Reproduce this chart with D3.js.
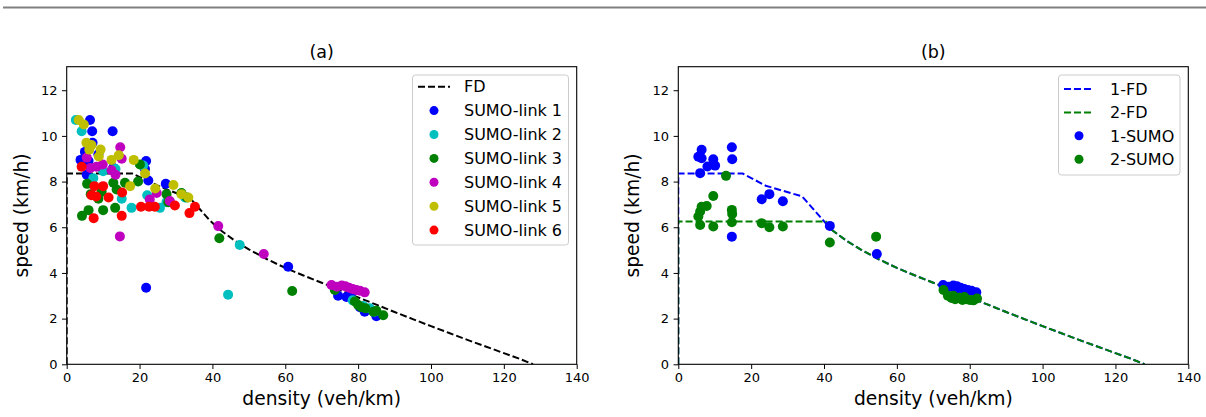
<!DOCTYPE html>
<html>
<head>
<meta charset="utf-8">
<script src="https://cdn.jsdelivr.net/npm/d3@7/dist/d3.min.js"></script>
<style>
  html, body { margin: 0; padding: 0; background: #fff; }
  svg { display: block; font-family: "DejaVu Sans", sans-serif; }
</style>
</head>
<body>
<svg id="chart" width="1206" height="417"></svg>
<script>
// ---------------- data ----------------
const xTicks = [0, 20, 40, 60, 80, 100, 120, 140];
const yTicks = [0, 2, 4, 6, 8, 10, 12];
const panelTitles = ["(a)", "(b)"];
const xLabel = "density (veh/km)";
const yLabel = "speed (km/h)";

// shared congested branch of the fundamental diagram
const fdTail = [[42,5.9],[46,5.43],[50,5.03],[55,4.6],[60,4.22],[65,3.89],[70,3.57],[75,3.25],[80,2.93],[85,2.61],[90,2.29],[95,1.98],[100,1.67],[105,1.37],[110,1.07],[115,0.78],[120,0.49],[124,0.26],[128,0]];
const fdHeadA = [[0,0],[0,8.35],[18,8.35],[22,8.05],[26,7.75],[30,7.5],[34,7.25],[36.5,6.8],[39.3,6.3],[42,5.9]];
const fdHead1 = [[0,0],[0,8.35],[17.7,8.35],[24,7.82],[34,7.35],[42,5.9]];
const fdHead2 = [[0,0],[0,6.25],[40.5,6.25],[42,5.9]];

const link1 = [[6.4,10.7],[7.0,10.2],[12.6,10.2],[7.1,9.7],[5.0,9.3],[8.7,9.2],[3.8,8.95],[6.0,8.9],[21.8,8.9],[21.5,8.55],[12.8,8.6],[5.5,8.3],[22.4,8.05],[27.2,7.9],[21.8,3.35],[60.8,4.27],[74.5,3.0],[76.8,2.95],[78,3.1],[80.5,2.5],[81.8,2.3],[83,2.4],[85,2.1]];
const link2 = [[2.5,10.7],[4.1,10.2],[7.3,8.15],[10,8.45],[13.4,8.55],[15.1,7.25],[17.8,6.85],[22.1,7.4],[25.6,6.85],[27.4,7.1],[32.5,7.3],[21,8.7],[44.3,3.05],[47.5,5.22],[78.5,2.8],[81.4,2.55],[83.2,2.45],[84.5,2.3]];
const link3 = [[4.2,6.5],[6.0,6.75],[10,6.75],[13.3,6.85],[5.6,7.9],[6.6,7.45],[8.7,7.25],[9.6,7.55],[12.8,7.95],[13.7,7.65],[16,7.95],[19.6,8.0],[20.1,8.75],[27.4,7.45],[27.9,7.1],[31.5,7.5],[33,7.3],[41.9,5.52],[61.9,3.21],[73.6,3.25],[79.1,2.75],[80,2.6],[80.9,2.5],[82,2.45],[84.2,2.3],[85,2.35],[86.9,2.15]];
const link4 = [[5.5,9.05],[6.5,8.6],[8.2,8.65],[9.9,8.75],[12.3,8.5],[13.4,8.3],[14.7,9.5],[15.1,9.0],[14.6,5.6],[22.8,7.22],[24.7,7.5],[28.3,7.15],[41.6,6.05],[54.1,4.83],[72.7,3.47],[74.2,3.4],[75.5,3.45],[76.5,3.42],[77.5,3.35],[78.5,3.3],[79.5,3.25],[80.5,3.22],[81.8,3.15]];
const link5 = [[3.3,10.7],[4.7,10.5],[5.4,9.7],[6.2,9.4],[6.8,9.6],[8.8,9.1],[9.3,9.4],[12.3,8.95],[14.3,9.15],[18.4,8.95],[21.5,8.35],[17.4,7.8],[24.3,7.7],[29.3,7.85],[31.5,7.45],[33.4,7.3]];
const link6 = [[4.1,8.65],[7.6,7.8],[10,7.8],[8.1,7.35],[11.5,7.3],[15.2,7.52],[7.4,6.4],[15.1,6.5],[20.4,6.9],[22.6,6.9],[24.2,6.9],[29.7,6.95],[33.7,6.62],[35.2,6.9],[6.8,7.4]];

const sumo1 = [[6.4,9.39],[5.5,9.09],[6.4,9.02],[9.6,8.98],[8.0,8.66],[10.1,8.7],[6.0,8.37],[14.7,9.5],[14.8,8.98],[14.7,5.59],[22.9,7.23],[25.0,7.45],[28.7,7.14],[41.6,6.06],[54.5,4.83],[72.7,3.47],[73.5,3.3],[74.2,3.4],[75.5,3.45],[76,3.3],[76.5,3.42],[77.5,3.35],[78.5,3.3],[79.5,3.25],[80.5,3.22],[81.8,3.15]];
const sumo2 = [[13.1,8.25],[9.6,7.37],[7.8,6.93],[6.4,6.9],[6.0,6.69],[5.5,6.47],[6.0,6.1],[9.6,6.03],[14.7,6.76],[14.8,6.58],[14.7,6.22],[22.9,6.18],[25,6.0],[28.7,6.03],[41.6,5.33],[54.3,5.59],[72.8,3.25],[74,3.0],[75,2.9],[75.5,3.0],[76,2.85],[77,2.9],[78,2.82],[78.5,2.95],[79,2.85],[80,2.82],[81,2.8],[82,2.88]];

const seriesA = [
  {name: "SUMO-link 1", color: "#0000ff", data: link1},
  {name: "SUMO-link 2", color: "#00bfbf", data: link2},
  {name: "SUMO-link 3", color: "#008000", data: link3},
  {name: "SUMO-link 4", color: "#bf00bf", data: link4},
  {name: "SUMO-link 5", color: "#bfbf00", data: link5},
  {name: "SUMO-link 6", color: "#ff0000", data: link6}
];
const linesA = [{name: "FD", color: "#000000", parts: [fdHeadA, fdTail]}];
const seriesB = [
  {name: "1-SUMO", color: "#0000ff", data: sumo1},
  {name: "2-SUMO", color: "#008000", data: sumo2}
];
const linesB = [
  {name: "1-FD", color: "#0000ff", parts: [fdHead1, fdTail]},
  {name: "2-FD", color: "#008000", parts: [fdHead2, fdTail]}
];

// ---------------- drawing ----------------
const svg = d3.select("#chart");

svg.append("line").attr("x1", 3).attr("x2", 1206).attr("y1", 7.5).attr("y2", 7.5)
  .attr("stroke", "#808080").attr("stroke-width", 2);

const plotTop = 66.7, plotBottom = 364.3;

function panel(opt) {
  const x = d3.scaleLinear().domain([0, 140]).range([opt.left, opt.right]);
  const y = d3.scaleLinear().domain([0, 13.03]).range([plotBottom, plotTop]);
  const g = svg.append("g");

  const clipId = "clip" + opt.id;
  g.append("clipPath").attr("id", clipId).append("rect")
    .attr("x", opt.left).attr("y", plotTop).attr("width", opt.right - opt.left).attr("height", plotBottom - plotTop);

  const plot = g.append("g").attr("clip-path", `url(#${clipId})`);
  const line = d3.line().x(d => x(d[0])).y(d => y(d[1]));
  opt.lines.forEach(l => {
    l.parts.forEach(p => {
      plot.append("path").attr("d", line(p)).attr("fill", "none")
        .attr("stroke", l.color).attr("stroke-width", 2).attr("stroke-dasharray", "7,3");
    });
  });
  opt.series.forEach(s => {
    plot.append("g").selectAll("circle").data(s.data).join("circle")
      .attr("cx", d => x(d[0])).attr("cy", d => y(d[1])).attr("r", 5).attr("fill", s.color);
  });

  // axes
  const xa = g.append("g").attr("transform", `translate(0,${plotBottom})`)
    .call(d3.axisBottom(x).tickValues(xTicks).tickSize(4.7).tickPadding(4));
  const ya = g.append("g").attr("transform", `translate(${opt.left},0)`)
    .call(d3.axisLeft(y).tickValues(yTicks).tickSize(4.7).tickPadding(4.5));
  [xa, ya].forEach(a => {
    a.select(".domain").remove();
    a.selectAll("text").attr("font-size", 13).attr("font-family", "DejaVu Sans").attr("fill", "#000");
    a.selectAll("line").attr("stroke", "#000").attr("stroke-width", 1);
  });

  g.append("rect").attr("x", opt.left).attr("y", plotTop).attr("width", opt.right - opt.left)
    .attr("height", plotBottom - plotTop).attr("fill", "none").attr("stroke", "#000").attr("stroke-width", 1.1);

  g.append("text").attr("x", (opt.left + opt.right) / 2).attr("y", 58)
    .attr("text-anchor", "middle").attr("font-size", 17.5).text(opt.title);
  g.append("text").attr("x", (opt.left + opt.right) / 2).attr("y", 405)
    .attr("text-anchor", "middle").attr("font-size", 18.7).text(xLabel);
  g.append("text").attr("transform", `translate(${opt.left - 39},${(plotTop + plotBottom) / 2}) rotate(-90)`)
    .attr("text-anchor", "middle").attr("font-size", 18.7).text(yLabel);

  // legend
  const L = opt.legend;
  g.append("rect").attr("x", L.x).attr("y", L.y).attr("width", L.w).attr("height", L.h)
    .attr("rx", 3).attr("fill", "#fff").attr("fill-opacity", 0.8).attr("stroke", "#cccccc").attr("stroke-width", 1);
  const items = opt.lines.map(l => ({type: "line", ...l})).concat(opt.series.map(s => ({type: "dot", ...s})));
  items.forEach((it, i) => {
    const cy = L.y0 + i * L.step;
    if (it.type === "line") {
      g.append("line").attr("x1", L.lx1).attr("x2", L.lx2).attr("y1", cy).attr("y2", cy)
        .attr("stroke", it.color).attr("stroke-width", 2).attr("stroke-dasharray", "7,3");
    } else {
      g.append("circle").attr("cx", (L.lx1 + L.lx2) / 2).attr("cy", cy).attr("r", 4.5).attr("fill", it.color);
    }
    g.append("text").attr("x", L.tx).attr("y", cy).attr("dy", "0.36em")
      .attr("font-size", 16).text(it.name);
  });
}

panel({id: "a", left: 66.7, right: 576.7, title: panelTitles[0], series: seriesA, lines: linesA,
  legend: {x: 412.5, y: 75, w: 156, h: 170, y0: 86.7, step: 23.9, lx1: 418, lx2: 450, tx: 464}});
panel({id: "b", left: 678.3, right: 1188.3, title: panelTitles[1], series: seriesB, lines: linesB,
  legend: {x: 1058.5, y: 75, w: 121.5, h: 100, y0: 89, step: 23.4, lx1: 1064, lx2: 1094, tx: 1110}});
</script>
</body>
</html>
